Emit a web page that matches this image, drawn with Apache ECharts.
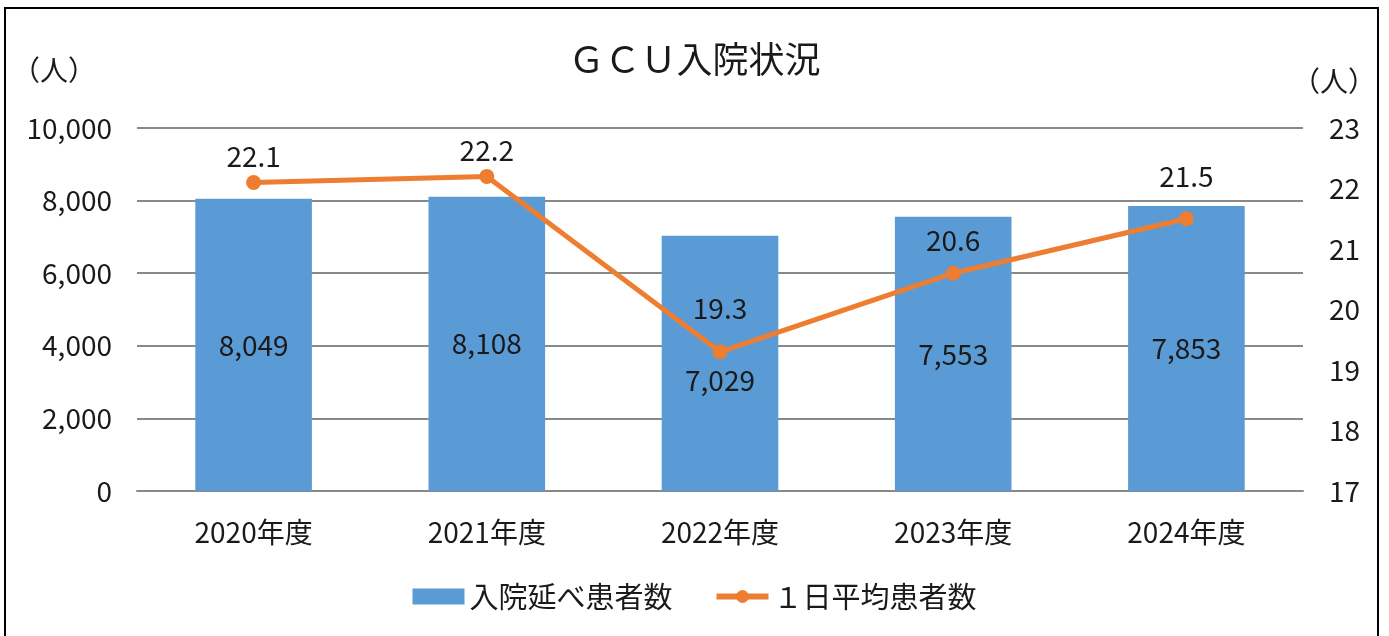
<!DOCTYPE html>
<html><head><meta charset="utf-8">
<script src="https://cdn.jsdelivr.net/npm/echarts@6/dist/echarts.min.js"></script>
<style>html,body{margin:0;padding:0;background:#fff}#c{width:1389px;height:636px}</style>
</head><body><div id="c"></div>
<script>
const categories = ['2020年度','2021年度','2022年度','2023年度','2024年度'];
const totalPatients = [8049, 8108, 7029, 7553, 7853];
const dailyAvg = [22.1, 22.2, 19.3, 20.6, 21.5];
const leftTicks = [0, 2000, 4000, 6000, 8000, 10000];
const rightTicks = [17, 18, 19, 20, 21, 22, 23];

const FONT = '"Noto Sans CJK JP", "Noto Sans", sans-serif';
const TXT = '#1a1a1a';
const FS = 28;
const lineLabelDist = [5, 5, 22, 11, 21];
const barLabelOffset = [0, 0, 17, 0, 0];

const chart = echarts.init(document.getElementById('c'));
chart.setOption({
  animation: false,
  textStyle: { fontFamily: FONT },
  title: {
    text: 'ＧＣＵ入院状況', left: 'center', top: 36,
    textStyle: { fontFamily: FONT, fontSize: 36, fontWeight: 'normal', color: TXT }
  },
  graphic: [
    { type: 'rect', shape: { x: 5, y: 8, width: 1373, height: 640 }, style: { fill: 'none', stroke: '#000', lineWidth: 2 }, silent: true },
    { type: 'text', left: 12, top: 56, style: { text: '（人）', font: FS + 'px ' + FONT, fill: TXT } },
    { type: 'text', left: 1292, top: 67, style: { text: '（人）', font: FS + 'px ' + FONT, fill: TXT } }
  ],
  legend: {
    bottom: 20, left: 'center', itemWidth: 52, itemHeight: 16, itemGap: 41,
    textStyle: { fontFamily: FONT, fontSize: 29, color: TXT },
    data: [
      { name: '入院延べ患者数', icon: 'rect' },
      { name: '１日平均患者数', lineStyle: { width: 6 } }
    ]
  },
  grid: { left: 137, right: 86, top: 128, bottom: 145 },
  xAxis: {
    type: 'category', data: categories,
    axisLine: { lineStyle: { color: '#898989', width: 2 } },
    axisTick: { show: false },
    axisLabel: { fontFamily: FONT, fontSize: FS, color: TXT, margin: 27 }
  },
  yAxis: [
    {
      type: 'value', min: leftTicks[0], max: leftTicks[leftTicks.length - 1], interval: 2000,
      axisLine: { show: false }, axisTick: { show: false },
      splitLine: { lineStyle: { color: '#898989', width: 2 } },
      axisLabel: { fontFamily: FONT, fontSize: FS, color: TXT, margin: 25,
        formatter: v => v.toLocaleString('en-US') }
    },
    {
      type: 'value', min: rightTicks[0], max: rightTicks[rightTicks.length - 1], interval: 1,
      axisLine: { show: false }, axisTick: { show: false }, splitLine: { show: false },
      axisLabel: { fontFamily: FONT, fontSize: FS, color: TXT, margin: 26 }
    }
  ],
  series: [
    {
      name: '入院延べ患者数', type: 'bar', barWidth: '50%', yAxisIndex: 0,
      itemStyle: { color: '#5B9BD5' },
      data: totalPatients.map((v, i) => ({
        value: v,
        label: { offset: [0, barLabelOffset[i]] }
      })),
      label: { show: true, position: 'inside', fontFamily: FONT, fontSize: FS, color: TXT,
        formatter: p => p.value.toLocaleString('en-US') }
    },
    {
      name: '１日平均患者数', type: 'line', yAxisIndex: 1,
      symbol: 'circle', symbolSize: 15,
      lineStyle: { color: '#ED7D31', width: 5 },
      itemStyle: { color: '#ED7D31' },
      data: dailyAvg.map((v, i) => ({
        value: v,
        label: { distance: lineLabelDist[i] }
      })),
      label: { show: true, position: 'top', fontFamily: FONT, fontSize: FS, color: TXT,
        formatter: p => p.value.toFixed(1) }
    }
  ]
});
</script></body></html>
